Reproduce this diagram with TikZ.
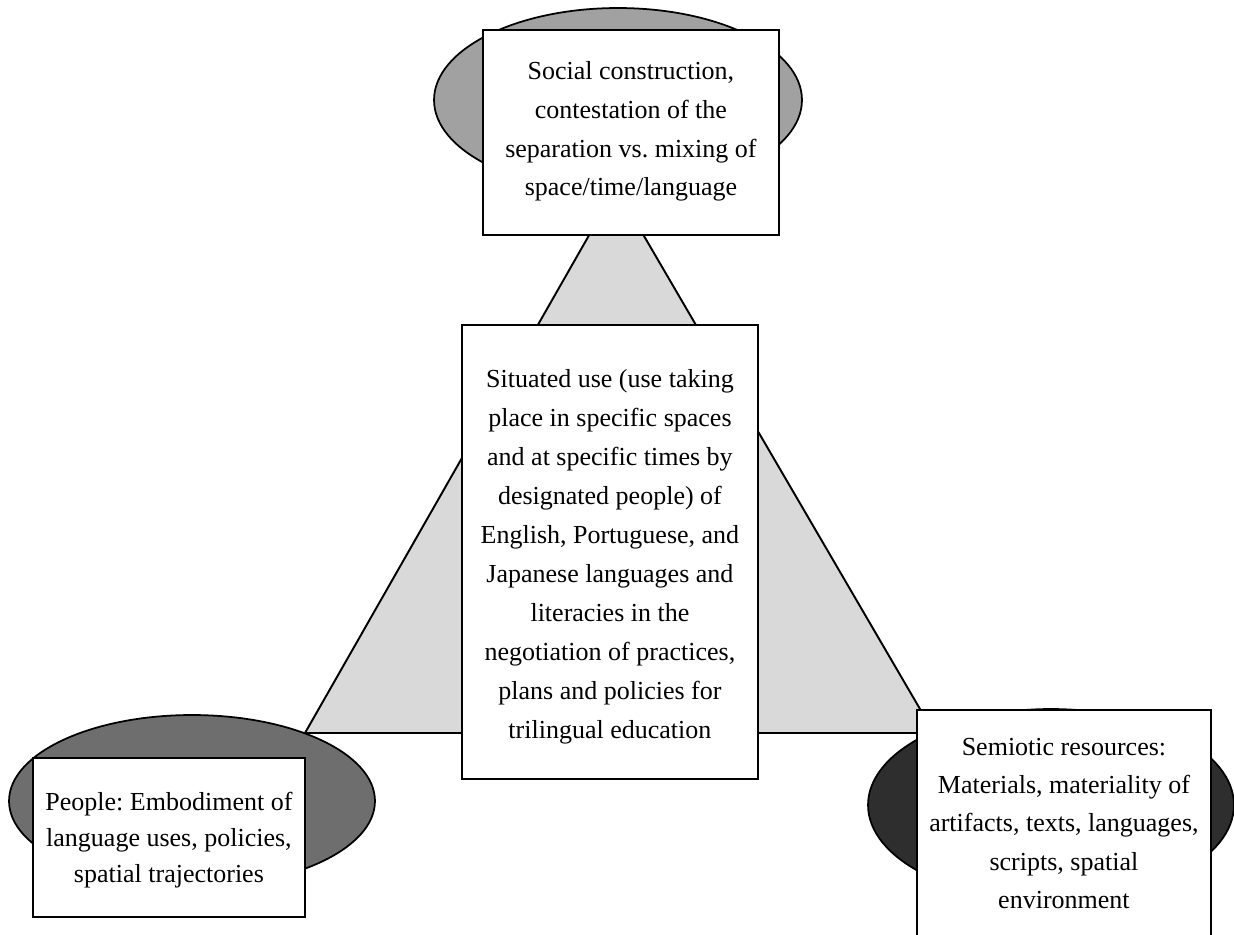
\documentclass[tikz,border=0pt]{standalone}
\usepackage{fontspec}
\setmainfont{Liberation Serif}
\usetikzlibrary{shapes.geometric}
\frenchspacing

\begin{document}
\begin{tikzpicture}[x=0.02cm,y=-0.02cm,
    blob/.style={ellipse,draw=black,line width=1pt,inner sep=0pt},
    panel/.style={draw=black,fill=white,line width=1.1pt,inner sep=0pt,align=center,anchor=north west,font=\fontsize{14.8}{#1}\selectfont}]
    \useasboundingbox (0,0) rectangle (1234,934);
    \clip (0,0) rectangle (1234,934);
    % shaded triangle, its tip hidden under the top box
    \coordinate (apex) at (616,188);
    \coordinate (left) at (305,733);
    \coordinate (right) at (934,733);
    \filldraw[fill=black!15,line width=1.1pt] (apex) -- (left) -- (right) -- cycle;
    % ellipses behind the three corner boxes
    \node[blob,fill=black!37,minimum width=7.36cm,minimum height=3.68cm] (socialblob) at (618,100) {};
    \node[blob,fill=black!57,minimum width=7.32cm,minimum height=3.44cm] (peopleblob) at (192,801) {};
    \node[blob,fill=black!82,minimum width=7.32cm,minimum height=3.84cm] (semioticblob) at (1051,805) {};
    % text boxes (text height/depth measured from the last line)
    \node[panel=22.1pt,minimum width=5.92cm,text height=3.32cm,text depth=0.78cm] (social) at (482,29)
        {Social construction,\\contestation of the\\separation vs. mixing of\\space/time/language};
    \node[panel=22.2pt,minimum width=5.92cm,text height=8.28cm,text depth=0.8cm] (use) at (461,324)
        {Situated use (use taking\\place in specific spaces\\and at specific times by\\designated people) of\\English, Portuguese, and\\Japanese languages and\\literacies in the\\negotiation of practices,\\plans and policies for\\trilingual education};
    \node[panel=20.7pt,minimum width=5.44cm,text height=2.5cm,text depth=0.68cm] (people) at (32,757)
        {People: Embodiment of\\language uses, policies,\\spatial trajectories};
    \node[panel=21.9pt,minimum width=5.88cm,text height=3.98cm,text depth=0.74cm] (semiotic) at (916,709)
        {Semiotic resources:\\Materials, materiality of\\artifacts, texts, languages,\\scripts, spatial\\environment};
\end{tikzpicture}
\end{document}
